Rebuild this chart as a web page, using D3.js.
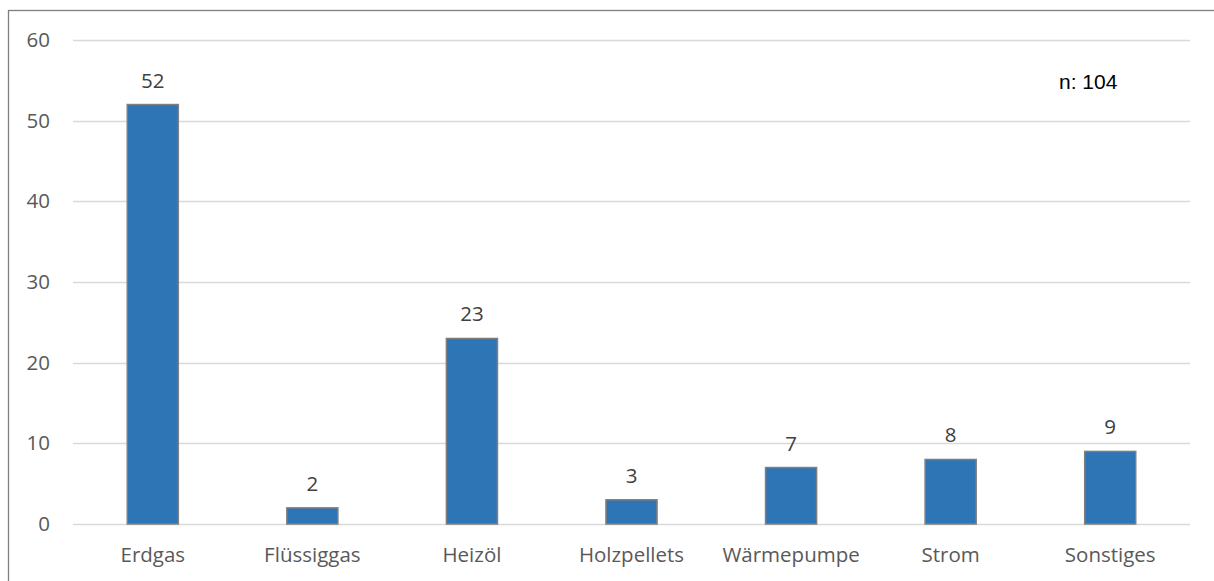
<!DOCTYPE html>
<html>
<head>
<meta charset="utf-8">
<script src="https://cdn.jsdelivr.net/npm/d3@7"></script>
<style>
  html, body { margin: 0; padding: 0; background: #fff; }
  svg { display: block; }
</style>
</head>
<body>
<svg id="chart" width="1214" height="581"></svg>
<script>
// Heating energy sources, count of responses
const categories = ["Erdgas", "Flüssiggas", "Heizöl", "Holzpellets", "Wärmepumpe", "Strom", "Sonstiges"];
const counts = [52, 2, 23, 3, 7, 8, 9];
const yTicks = [0, 10, 20, 30, 40, 50, 60];
const sampleNote = "n: 104";

const svg = d3.select("#chart");
const margin = { left: 73, right: 24, top: 40, bottom: 57 };
const W = 1214, H = 581;

// outer frame (runs off the right and bottom edges)
svg.append("rect")
  .attr("x", 8.5).attr("y", 10.5)
  .attr("width", W).attr("height", H)
  .attr("fill", "none").attr("stroke", "#7f7f7f").attr("stroke-width", 1.3);

const x = d3.scaleBand()
  .domain(categories)
  .range([margin.left, W - margin.right])
  .paddingInner(0.68).paddingOuter(0.34);

const y = d3.scaleLinear()
  .domain([0, 60])
  .range([H - margin.bottom, margin.top]);

const fontFam = "'Open Sans', sans-serif";
const fs = 20.5;

// gridlines
svg.append("g").selectAll("line")
  .data(yTicks)
  .join("line")
  .attr("x1", margin.left).attr("x2", W - margin.right)
  .attr("y1", d => Math.round(y(d)) + 0.5).attr("y2", d => Math.round(y(d)) + 0.5)
  .attr("stroke", "#d9d9d9").attr("stroke-width", 1.3);

// y axis labels
const yAxis = d3.axisLeft(y).tickValues(yTicks).tickSize(0).tickPadding(0);
svg.append("g")
  .attr("transform", `translate(${margin.left - 23},0)`)
  .call(yAxis)
  .call(g => g.select(".domain").remove())
  .call(g => g.selectAll("text")
    .attr("fill", "#595959")
    .attr("font-size", fs)
    .attr("font-family", fontFam));

// bars
svg.append("g").selectAll("rect")
  .data(counts)
  .join("rect")
  .attr("x", (d, i) => x(categories[i]))
  .attr("width", x.bandwidth())
  .attr("y", d => y(d))
  .attr("height", d => y(0) - y(d))
  .attr("fill", "#2e75b6")
  .attr("stroke", "#7f7f7f")
  .attr("stroke-width", 1.5);

// value labels
svg.append("g").selectAll("text")
  .data(counts)
  .join("text")
  .attr("x", (d, i) => x(categories[i]) + x.bandwidth() / 2)
  .attr("y", d => y(d) - 17)
  .attr("text-anchor", "middle")
  .attr("fill", "#404040")
  .attr("font-size", fs)
  .attr("font-family", fontFam)
  .text(d => d);

// category labels
const xAxis = d3.axisBottom(x).tickSize(0).tickPadding(0);
svg.append("g")
  .attr("transform", `translate(0,${H - margin.bottom + 23})`)
  .call(xAxis)
  .call(g => g.select(".domain").remove())
  .call(g => g.selectAll("text")
    .attr("fill", "#595959")
    .attr("font-size", fs)
    .attr("font-family", fontFam));

// sample size note
svg.append("text")
  .attr("x", 1059).attr("y", 89)
  .attr("fill", "#000")
  .attr("font-size", 21)
  .attr("font-family", "'Liberation Sans', Arial, sans-serif")
  .text(sampleNote);
</script>
</body>
</html>
